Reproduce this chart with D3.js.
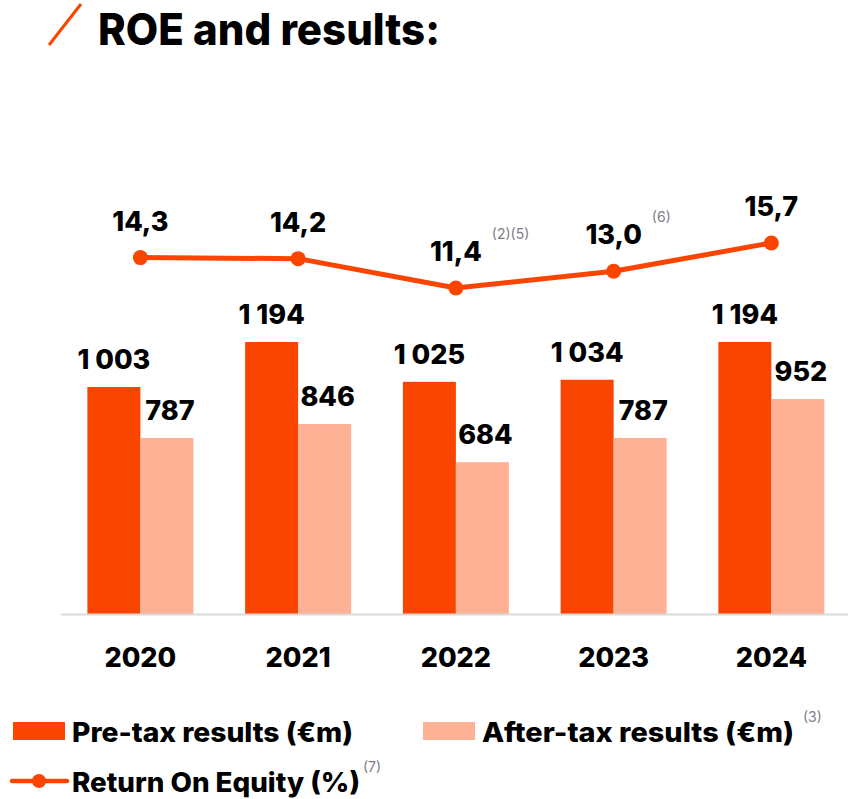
<!DOCTYPE html>
<html>
<head>
<meta charset="utf-8">
<script src="https://cdn.jsdelivr.net/npm/d3@7"></script>
<style>
  html, body { margin: 0; padding: 0; background: #fff; }
  svg { display: block; font-family: Inter, "Noto Sans", sans-serif; }
</style>
</head>
<body>
<svg id="chart" width="848" height="799"></svg>
<script>
const years = ["2020", "2021", "2022", "2023", "2024"];
const preTax = [1003, 1194, 1025, 1034, 1194];
const afterTax = [787, 846, 684, 787, 952];
const roe = [14.3, 14.2, 11.4, 13.0, 15.7];
const roeNotes = ["", "", "(2)(5)", "(6)", ""];
const seriesNames = ["Pre-tax results (€m)", "After-tax results (€m)", "Return On Equity (%)"];
const seriesNotes = ["", "(3)", "(7)"];
const title = "ROE and results:";

const ORANGE = "#F94500";
const PEACH = "#FFB195";
const NOTE = "#7d7d8a";
const W = 800;

const svg = d3.select("#chart");

// Title
svg.append("line").attr("x1", 49).attr("y1", 45).attr("x2", 81).attr("y2", 4)
  .attr("stroke", ORANGE).attr("stroke-width", 3);
svg.append("text").attr("x", 98).attr("y", 45)
  .attr("font-size", 44).attr("font-weight", W).attr("fill", "#000")
  .attr("textLength", 342).attr("lengthAdjust", "spacingAndGlyphs")
  .text(title);

// Scales
const axisY = 614;
const x = d3.scaleBand().domain(years).range([61.5, 850.25]).paddingInner(0.328).paddingOuter(0.164);
const xSub = d3.scaleBand().domain(["pre", "after"]).range([0, x.bandwidth()]);
const y = d3.scaleLinear().domain([40, 1194]).range([axisY, 342]);
const yRoe = d3.scaleLinear().domain([0, 16]).range([407.5, 239.8]);

const fmtInt = d3.formatLocale({ decimal: ",", thousands: " ", grouping: [3], currency: ["", ""] }).format(",d");
const fmtRoe = d3.formatLocale({ decimal: ",", thousands: " ", grouping: [3], currency: ["", ""] }).format(".1f");

// Bars
const rows = years.map((yr, i) => ({ year: yr, pre: preTax[i], after: afterTax[i] }));
const groups = svg.append("g").selectAll("g").data(rows).join("g")
  .attr("transform", d => `translate(${x(d.year)},0)`);

const barData = d => [{ key: "pre", v: d.pre }, { key: "after", v: d.after }];
groups.selectAll("rect").data(barData).join("rect")
  .attr("x", d => xSub(d.key))
  .attr("width", xSub.bandwidth())
  .attr("y", d => y(d.v))
  .attr("height", d => axisY - y(d.v))
  .attr("fill", d => d.key === "pre" ? ORANGE : PEACH);

groups.selectAll("text.val").data(barData).join("text")
  .attr("class", "val")
  .attr("x", d => xSub(d.key) + xSub.bandwidth() / 2 + (d.key === "after" ? 3 : 0))
  .attr("y", d => y(d.v) - 18)
  .attr("text-anchor", "middle")
  .attr("font-size", 27).attr("font-weight", W).attr("fill", "#000")
  .text(d => fmtInt(d.v));

// Axis baseline
svg.append("line").attr("x1", 61).attr("x2", 848).attr("y1", axisY + 0.5).attr("y2", axisY + 0.5)
  .attr("stroke", "#d9d9d9").attr("stroke-width", 2);

// X axis labels
const xAxis = d3.axisBottom(x).tickSize(0).tickPadding(0);
const gx = svg.append("g").attr("transform", `translate(0,${axisY})`).call(xAxis);
gx.select(".domain").remove();
gx.selectAll("text")
  .attr("y", 53).attr("dy", 0)
  .attr("font-size", 27).attr("font-weight", W).attr("fill", "#000")
  .attr("font-family", "Inter, 'Noto Sans', sans-serif");

// ROE line
const cx = i => x(years[i]) + x.bandwidth() / 2;
const line = d3.line().x((d, i) => cx(i)).y(d => yRoe(d));
svg.append("path").datum(roe).attr("d", line)
  .attr("fill", "none").attr("stroke", ORANGE).attr("stroke-width", 5).attr("stroke-linejoin", "round");
svg.append("g").selectAll("circle").data(roe).join("circle")
  .attr("cx", (d, i) => cx(i)).attr("cy", d => yRoe(d)).attr("r", 7.5).attr("fill", ORANGE);

const roeLab = svg.append("g").selectAll("text").data(roe).join("text")
  .attr("x", (d, i) => cx(i)).attr("y", d => yRoe(d) - 27)
  .attr("text-anchor", "middle")
  .attr("font-size", 27).attr("font-weight", W).attr("fill", "#000")
  .text(d => fmtRoe(d));

roeLab.each(function(d, i) {
  if (!roeNotes[i]) return;
  const w = this.getComputedTextLength();
  svg.append("text")
    .attr("x", cx(i) + w / 2 + 10).attr("y", yRoe(d) - 27 - 22)
    .attr("font-size", 14).attr("fill", NOTE)
    .text(roeNotes[i]);
});

// Legend
const legend = svg.append("g");
const legendItems = [
  { x: 13, y: 742, w: 281, type: "rect", color: ORANGE },
  { x: 423, y: 742, w: 312, type: "rect", color: PEACH },
  { x: 13, y: 792, w: 288, type: "line", color: ORANGE }
];
legendItems.forEach((it, i) => {
  if (it.type === "rect") {
    legend.append("rect").attr("x", it.x).attr("y", it.y - 20).attr("width", 52).attr("height", 18).attr("fill", it.color);
  } else {
    legend.append("line").attr("x1", it.x - 1).attr("x2", it.x + 54).attr("y1", it.y - 11).attr("y2", it.y - 11)
      .attr("stroke", it.color).attr("stroke-width", 4.5).attr("stroke-linecap", "round");
    legend.append("circle").attr("cx", it.x + 26).attr("cy", it.y - 11).attr("r", 7).attr("fill", it.color);
  }
  const tx = it.x + 59;
  legend.append("text").attr("x", tx).attr("y", it.y)
    .attr("font-size", 27).attr("font-weight", W).attr("fill", "#000")
    .attr("textLength", it.w).attr("lengthAdjust", "spacingAndGlyphs")
    .text(seriesNames[i]);
  if (seriesNotes[i]) {
    legend.append("text").attr("x", tx + it.w + (i === 1 ? 9 : 3)).attr("y", it.y - 20)
      .attr("font-size", 14).attr("fill", NOTE)
      .text(seriesNotes[i]);
  }
});
</script>
</body>
</html>
